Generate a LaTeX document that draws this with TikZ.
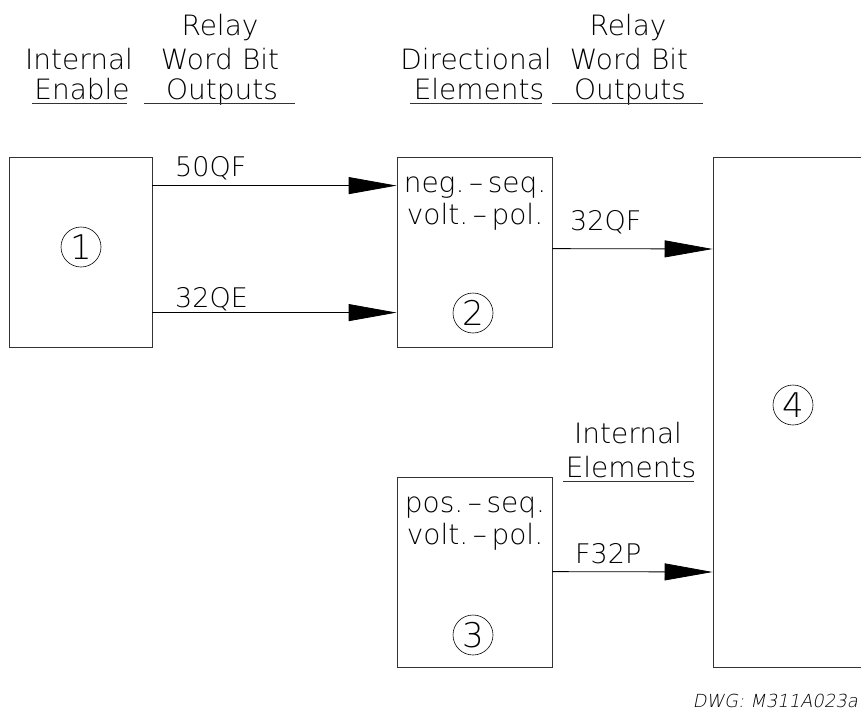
\documentclass[tikz,border=0pt]{standalone}
\usepackage{fontspec}
\setmainfont{DejaVu Sans}[UprightFont={* ExtraLight},ItalicFont={* ExtraLight},ItalicFeatures={FakeSlant=0.2}]
\usetikzlibrary{arrows.meta,positioning}
\tikzset{
  blk/.style={draw=black!80,line width=0.8pt,minimum height=190pt,inner sep=0pt},
  num/.style={circle,draw=black,line width=0.6pt,minimum size=40pt,inner sep=0pt,font=\fontsize{34}{34}\selectfont},
  hdr/.style={font=\fontsize{28}{28}\selectfont,inner sep=0pt,anchor=base},
  sig/.style={font=\fontsize{27}{27}\selectfont,inner sep=0pt,anchor=base west},
  uline/.style={line width=0.8pt,black!80},
  flow/.style={-{Triangle[length=48pt,width=17pt]},line width=0.8pt,black},
}
\begin{document}
\begin{tikzpicture}[x=1pt,y=-1pt]
  \useasboundingbox (0,0) rectangle (861,712);
  \clip (0,0) rectangle (861,712);
  % headings
  \node[hdr] (rl1) at (220,35) {Relay};
  \node[hdr] (ie) at (79,69) {Internal};
  \node[hdr] (wb1) at (220,69) {Word\,\,Bit};
  \node[hdr] (en) at (82,99) {Enable};
  \node[hdr] (op1) at (222,99) {Outputs};
  \draw[uline] (32,103) -- (127,103);
  \draw[uline] (144,103) -- (295,103);
  \node[hdr] (rl2) at (628,35) {Relay};
  \node[hdr] (de) at (476,69) {Directional};
  \node[hdr] (wb2) at (629,69) {Word\,\,Bit};
  \node[hdr] (el1) at (479,99) {Elements};
  \node[hdr] (op2) at (630,99) {Outputs};
  \draw[uline] (410,103) -- (542,103);
  \draw[uline] (552,103) -- (703,103);
  \node[hdr] (ie2) at (628,443) {Internal};
  \node[hdr] (el2) at (631,477) {Elements};
  \draw[uline] (563,481) -- (694,481);
  % blocks
  \node[blk,minimum width=143pt] (enbl) at (80.5,252) {};
  \node[blk,minimum width=155pt] (neg) at (474.5,252) {};
  \node[blk,minimum width=155pt] (pos) at (474.5,572) {};
  \node[blk,minimum width=220pt,minimum height=510pt] (logic) at (823,412) {};
  \node[num] (n1) at (81,247) {1};
  \node[num] (n2) at (473,313) {2};
  \node[num] (n3) at (473,635) {3};
  \node[num] (n4) at (793,405) {4};
  \node[hdr] (neg1) at (475,192) {neg.\,--\,seq.};
  \node[hdr] (neg2) at (475,224) {volt.\,--\,pol.};
  \node[hdr] (pos1) at (475,512) {pos.\,--\,seq.};
  \node[hdr] (pos2) at (475,544) {volt.\,--\,pol.};
  % connectors
  \draw[flow] ([yshift=-29pt]enbl.north east) -- ([yshift=-29pt]neg.north west);
  \draw[flow] ([yshift=-156pt]enbl.north east) -- ([yshift=-156pt]neg.north west);
  \draw[flow] ([yshift=-92pt]neg.north east) -- (logic.west |- 0,249);
  \draw[flow] ([yshift=-95pt]pos.north east) -- (logic.west |- 0,572);
  \node[sig] (q50) at (175,176) {50QF};
  \node[sig] (q32e) at (175,307) {32QE};
  \node[sig] (q32f) at (570,230) {32QF};
  \node[sig] (f32p) at (575,563) {F32P};
  \node[font=\fontsize{18}{18}\selectfont\itshape,inner sep=0pt,anchor=base east] (dwg) at (858,707) {DWG:\,\,M311A023a};
\end{tikzpicture}
\end{document}
